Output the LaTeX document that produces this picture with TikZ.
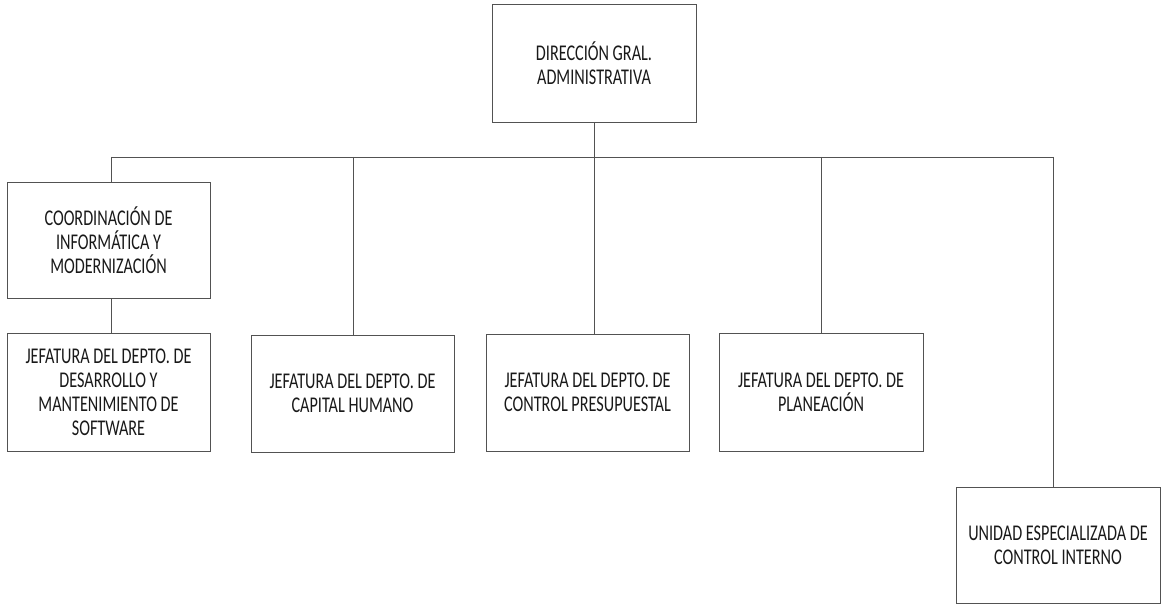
\documentclass[tikz,border=0pt]{standalone}
\usepackage{fontspec}
\setmainfont[FakeStretch=0.72]{Carlito}
\begin{document}
\begin{tikzpicture}[x=1bp,y=-1bp,
  unit/.style={draw=black!68, line width=0.9bp, fill=white, align=center,
    font=\fontsize{22.5bp}{24bp}\selectfont, text=black!90, inner sep=0pt},
  link/.style={draw=black!68, line width=0.9bp}]
\useasboundingbox (0,0) rectangle (1168,614);
% boxes
\node[unit, minimum width=204bp, minimum height=118bp] (dir) at (594,63)
  {DIRECCIÓN GRAL.\\ADMINISTRATIVA};
\node[unit, minimum width=203bp, minimum height=116bp] (coord) at (108.5,240)
  {COORDINACIÓN DE\\INFORMÁTICA Y\\MODERNIZACIÓN};
\node[unit, minimum width=203bp, minimum height=118bp] (soft) at (108.5,392)
  {JEFATURA DEL DEPTO. DE\\DESARROLLO Y\\MANTENIMIENTO DE\\SOFTWARE};
\node[unit, minimum width=203bp, minimum height=117bp] (cap) at (352.5,393.5)
  {JEFATURA DEL DEPTO. DE\\CAPITAL HUMANO};
\node[unit, minimum width=203bp, minimum height=117bp] (pres) at (587.5,392.5)
  {JEFATURA DEL DEPTO. DE\\CONTROL PRESUPUESTAL};
\node[unit, minimum width=204bp, minimum height=118bp] (plan) at (821,392)
  {JEFATURA DEL DEPTO. DE\\PLANEACIÓN};
\node[unit, minimum width=204bp, minimum height=116bp] (uni) at (1058,545)
  {UNIDAD ESPECIALIZADA DE\\CONTROL INTERNO};
% bus taps
\coordinate (bc) at (111,157);
\coordinate (bh) at (353,157);
\coordinate (bd) at (594,157);
\coordinate (bp) at (821,157);
\coordinate (bu) at (1053,157);
% connectors
\draw[link] (dir.south) -- (bd);
\draw[link] (bc) -- (bu);
\draw[link] (bc) -- (coord.north -| bc);
\draw[link] (bh) -- (cap.north -| bh);
\draw[link] (bd) -- (pres.north -| bd);
\draw[link] (bp) -- (plan.north -| bp);
\draw[link] (bu) -- (uni.north -| bu);
\draw[link] (coord.south -| bc) -- (soft.north -| bc);
\end{tikzpicture}
\end{document}
